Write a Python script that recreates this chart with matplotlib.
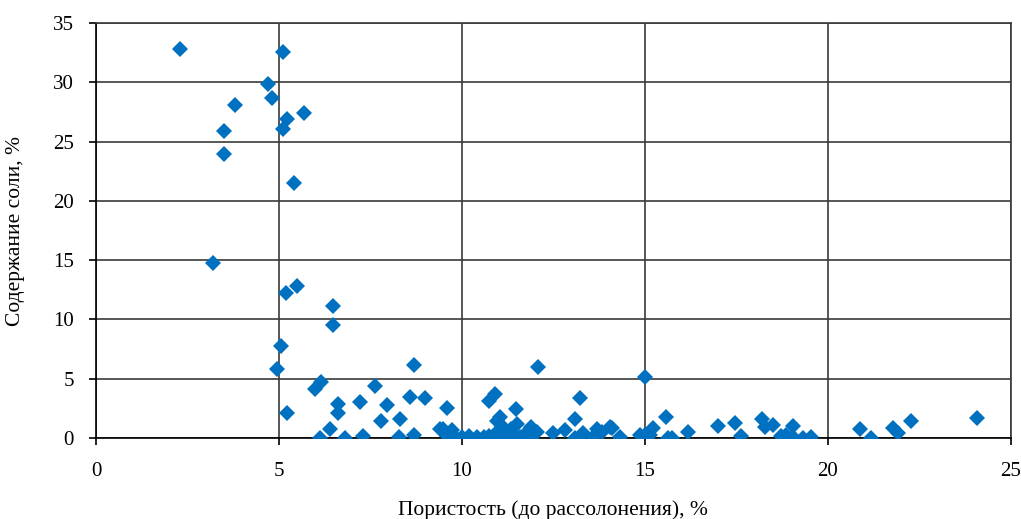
import matplotlib
matplotlib.use('Agg')
from matplotlib import pyplot as plt

# porosity (before desalting), % and salt content, %
porosity = [
    2.30, 5.10, 4.70, 4.80, 3.81, 5.69, 5.21, 5.10, 3.51, 3.51, 5.41, 3.21,
    5.50, 5.19, 6.49, 6.49, 5.05, 4.94, 8.70, 6.14, 5.98, 7.63, 8.59, 9.00,
    6.61, 6.61, 7.21, 7.96, 5.21, 7.79, 8.32, 6.40, 6.11, 6.80, 7.29, 8.29,
    8.70, 9.40,
    12.09, 9.60, 10.73, 10.90, 11.48, 11.04, 11.50, 11.90, 12.50, 9.49, 9.72,
    9.60, 9.80, 10.00, 10.20, 10.40, 10.60, 10.75, 10.90, 11.00, 11.05, 11.10,
    11.20, 11.30, 11.35, 11.45, 11.60, 11.75, 11.90, 12.05, 10.95,
    15.01, 13.24, 13.10, 15.59, 12.81, 13.68, 14.09, 14.32, 14.86, 15.23,
    15.73, 13.09, 13.30, 13.82, 14.04, 15.00, 15.64, 13.59, 15.14,
    16.18, 17.00, 17.46, 17.64, 18.19, 18.28, 18.50, 18.73, 19.05, 19.05,
    19.33, 19.55, 18.87,
    20.87, 21.19, 21.78, 21.92, 22.28, 24.08,
]
salt = [
    32.8, 32.6, 29.9, 28.7, 28.1, 27.4, 26.9, 26.1, 25.9, 24.0, 21.5, 14.8,
    12.85, 12.2, 11.1, 9.5, 7.8, 5.8, 6.2, 4.75, 4.1, 4.4, 3.5, 3.4,
    2.9, 2.1, 3.0, 2.75, 2.1, 1.4, 1.6, 0.73, 0.0, 0.0, 0.17, 0.1,
    0.25, 0.76,
    5.96, 2.55, 3.1, 3.7, 2.42, 1.8, 1.2, 0.9, 0.45, 0.8, 0.7,
    0.2, 0.05, 0.1, 0.15, 0.05, 0.1, 0.2, 0.35, 0.1, 0.6, 1.0,
    0.3, 0.0, 0.8, 0.2, 0.05, 0.4, 0.15, 0.5, 1.4,
    5.17, 3.4, 1.58, 1.74, 0.7, 0.8, 0.85, 0.1, 0.25, 0.85,
    0.0, 0.0, 0.4, 0.5, 0.9, 0.25, 0.0, 0.1, 0.25,
    0.48, 1.04, 1.24, 0.17, 1.58, 0.95, 1.1, 0.17, 1.0, 0.1,
    0.0, 0.1, 0.25,
    0.73, 0.0, 0.82, 0.4, 1.46, 1.71,
]

xticks = [0, 5, 10, 15, 20, 25]
yticks = [0, 5, 10, 15, 20, 25, 30, 35]

plt.rcParams['font.family'] = ['Liberation Serif', 'DejaVu Serif']

fig = plt.figure(figsize=(10.21, 5.19), dpi=100)
ax = fig.add_axes([0.094, 0.156, 0.896, 0.7995])

ax.plot(porosity, salt, linestyle='none', marker='D', markersize=8,
        color='#0070C0', markeredgewidth=0, zorder=3)

ax.set_xlim(0, 25)
ax.set_ylim(0, 35)
ax.set_xticks(xticks)
ax.set_yticks(yticks)
ax.grid(True, color='#3a3a3a', linewidth=1.2)
for s in ax.spines.values():
    s.set_color('#3a3a3a')
    s.set_linewidth(1.2)
ax.spines['left'].set_color('black')
ax.spines['bottom'].set_color('black')
ax.tick_params(direction='out', length=5, width=1.2, labelsize=15,
               colors='black')
ax.tick_params(axis='x', pad=12)
ax.tick_params(axis='y', pad=11)

ax.set_xlabel('Пористость (до рассолонения), %', fontsize=15.5, labelpad=14)
ax.set_ylabel('Содержание соли, %', fontsize=15.5, labelpad=20)

plt.savefig('out.png', dpi=100)
plt.close()
